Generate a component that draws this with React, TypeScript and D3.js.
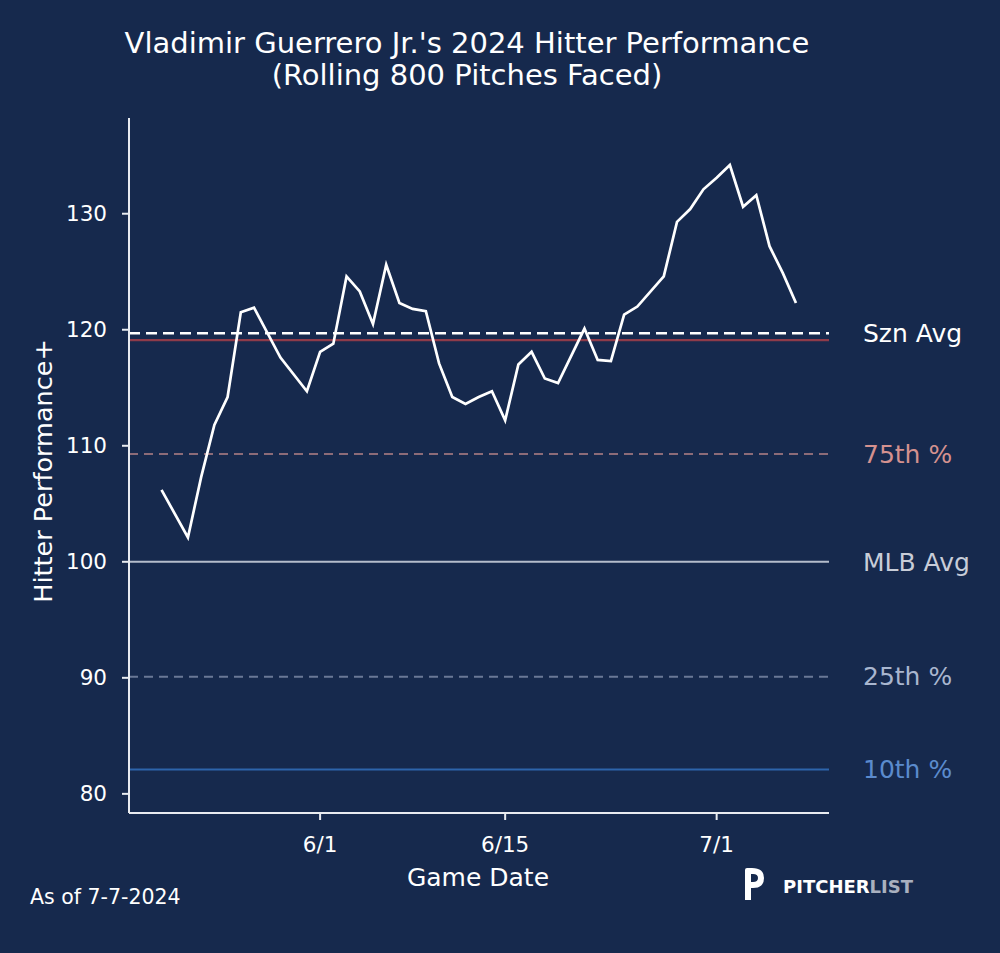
import { useEffect, useRef } from "react";
import * as d3 from "d3";

// game dates (2024) and rolling Hitter Performance+ values
const gameDates = [
  "2024-05-20", "2024-05-22", "2024-05-23", "2024-05-24", "2024-05-25", "2024-05-26",
  "2024-05-27", "2024-05-29", "2024-05-31", "2024-06-01", "2024-06-02", "2024-06-03",
  "2024-06-04", "2024-06-05", "2024-06-06", "2024-06-07", "2024-06-08", "2024-06-09",
  "2024-06-10", "2024-06-11", "2024-06-12", "2024-06-13", "2024-06-14", "2024-06-15",
  "2024-06-16", "2024-06-17", "2024-06-18", "2024-06-19", "2024-06-21", "2024-06-22",
  "2024-06-23", "2024-06-24", "2024-06-25", "2024-06-27", "2024-06-28", "2024-06-29",
  "2024-06-30", "2024-07-01", "2024-07-02", "2024-07-03", "2024-07-04", "2024-07-05",
  "2024-07-06", "2024-07-07",
];
const hitterPerf = [
  106.2, 102.1, 107.3, 111.8, 114.2, 121.5,
  121.9, 117.6, 114.7, 118.1, 118.8, 124.6,
  123.3, 120.5, 125.6, 122.3, 121.8, 121.6,
  117.1, 114.2, 113.6, 114.2, 114.7, 112.2,
  117.0, 118.1, 115.8, 115.4, 120.1, 117.4,
  117.3, 121.3, 122.0, 124.6, 129.3, 130.4,
  132.1, 133.1, 134.2, 130.6, 131.6, 127.2,
  124.9, 122.3,
];

// reference lines
const refLabels = ["Szn Avg", "75th %", "MLB Avg", "25th %", "10th %"];
const refValues = [119.7, 109.3, 100, 90.1, 82.1];
const refLineColors = ["#ffffff", "#8c6b78", "#b4bccb", "#6a7896", "#2d64ab"];
const refTextColors = ["#ffffff", "#d4918f", "#c8cdd8", "#a9b6cf", "#5b8bcd"];
const refDashed = [true, true, false, true, false];
const upperLineValue = 119.1; // unlabeled red line

const yTicks = [80, 90, 100, 110, 120, 130];
const xTicks = ["2024-06-01", "2024-06-15", "2024-07-01"];
const xTickLabels = ["6/1", "6/15", "7/1"];

const BG = "#16294d";
const FONT = "DejaVu Sans, Verdana, sans-serif";

export default function App() {
  const svgRef = useRef<SVGSVGElement>(null);

  useEffect(() => {
    if (!svgRef.current) return;
    const svg = d3.select(svgRef.current);
    svg.selectAll("*").remove();

    const parse = d3.timeParse("%Y-%m-%d");
    const left = 129, right = 829, top = 118, bottom = 813;

    const x = d3
      .scaleTime()
      .domain([new Date(2024, 4, 17, 13), new Date(2024, 6, 9, 12)])
      .range([left, right]);
    const y = d3.scaleLinear().domain([78.35, 138.25]).range([bottom, top]);

    svg.append("rect").attr("width", 1000).attr("height", 953).attr("fill", BG);

    // title
    const title = svg
      .append("text")
      .attr("text-anchor", "middle")
      .attr("fill", "#ffffff")
      .attr("font-family", FONT)
      .attr("font-size", 29);
    title.append("tspan").attr("x", 467).attr("y", 53).text("Vladimir Guerrero Jr.'s 2024 Hitter Performance");
    title.append("tspan").attr("x", 467).attr("y", 85).text("(Rolling 800 Pitches Faced)");

    // reference lines
    svg
      .append("line")
      .attr("x1", left).attr("x2", right)
      .attr("y1", y(upperLineValue)).attr("y2", y(upperLineValue))
      .attr("stroke", "#8e3b4a").attr("stroke-width", 2.2);

    refValues.forEach((v, i) => {
      svg
        .append("line")
        .attr("x1", left).attr("x2", right)
        .attr("y1", y(v)).attr("y2", y(v))
        .attr("stroke", refLineColors[i])
        .attr("stroke-width", i === 0 ? 2.6 : 2)
        .attr("stroke-dasharray", refDashed[i] ? (i === 0 ? "11,6" : "9,6") : null);
      svg
        .append("text")
        .attr("x", 863)
        .attr("y", y(v))
        .attr("dy", "0.35em")
        .attr("fill", refTextColors[i])
        .attr("font-family", FONT)
        .attr("font-size", 25)
        .text(refLabels[i]);
    });

    // data line
    const pts = gameDates.map((d, i) => ({ date: parse(d) as Date, v: hitterPerf[i] }));
    const line = d3
      .line<{ date: Date; v: number }>()
      .x((d) => x(d.date))
      .y((d) => y(d.v));
    svg
      .append("path")
      .datum(pts)
      .attr("d", line)
      .attr("fill", "none")
      .attr("stroke", "#ffffff")
      .attr("stroke-width", 2.7)
      .attr("stroke-linejoin", "miter");

    // axes
    const axisColor = "#e8ebf0";
    svg.append("line").attr("x1", left).attr("x2", left).attr("y1", top).attr("y2", bottom)
      .attr("stroke", axisColor).attr("stroke-width", 2);
    svg.append("line").attr("x1", left).attr("x2", right).attr("y1", bottom).attr("y2", bottom)
      .attr("stroke", axisColor).attr("stroke-width", 2);

    yTicks.forEach((t) => {
      svg.append("line").attr("x1", left - 7).attr("x2", left).attr("y1", y(t)).attr("y2", y(t))
        .attr("stroke", axisColor).attr("stroke-width", 2);
      svg.append("text")
        .attr("x", 107).attr("y", y(t)).attr("dy", "0.35em")
        .attr("text-anchor", "end").attr("fill", "#ffffff")
        .attr("font-family", FONT).attr("font-size", 21.5)
        .text(String(t));
    });

    xTicks.forEach((t, i) => {
      const xp = x(parse(t) as Date);
      svg.append("line").attr("x1", xp).attr("x2", xp).attr("y1", bottom).attr("y2", bottom + 7)
        .attr("stroke", axisColor).attr("stroke-width", 2);
      svg.append("text")
        .attr("x", xp).attr("y", 852)
        .attr("text-anchor", "middle").attr("fill", "#ffffff")
        .attr("font-family", FONT).attr("font-size", 21.5)
        .text(xTickLabels[i]);
    });

    // axis labels
    svg.append("text")
      .attr("x", 478).attr("y", 886)
      .attr("text-anchor", "middle").attr("fill", "#ffffff")
      .attr("font-family", FONT).attr("font-size", 25)
      .text("Game Date");
    svg.append("text")
      .attr("transform", `translate(52,471) rotate(-90)`)
      .attr("text-anchor", "middle").attr("fill", "#ffffff")
      .attr("font-family", FONT).attr("font-size", 25.5)
      .text("Hitter Performance+");

    // footer
    svg.append("text")
      .attr("x", 30).attr("y", 904)
      .attr("fill", "#ffffff")
      .attr("font-family", FONT).attr("font-size", 20.5)
      .text("As of 7-7-2024");

    // logo
    const logo = svg.append("g").attr("transform", "translate(745,868)");
    logo.append("path")
      .attr("d", "M0,2 Q0,0 2,0 L7,0 Q19,0 19,10 Q19,20 8,20 L6,20 L6,14 L8,14 Q13,14 13,10 Q13,6 8,6 L6,6 L6,32 L0,32 Z")
      .attr("fill", "#ffffff");
    const lt = logo.append("text")
      .attr("x", 38).attr("y", 25)
      .attr("font-family", FONT).attr("font-size", 18).attr("font-weight", "bold");
    lt.append("tspan").attr("fill", "#ffffff").text("PITCHER");
    lt.append("tspan").attr("fill", "#a9b0bf").text("LIST");
  }, []);

  return (
    <svg
      ref={svgRef}
      width={1000}
      height={953}
      style={{ position: "absolute", top: 0, left: 0, display: "block" }}
    />
  );
}
